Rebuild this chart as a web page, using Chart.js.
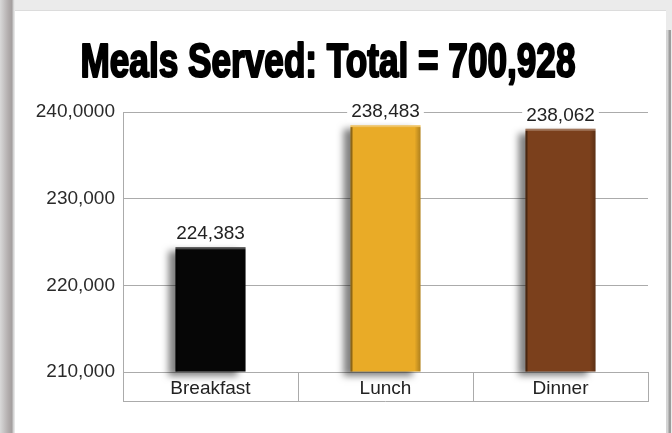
<!DOCTYPE html>
<html>
<head>
<meta charset="utf-8">
<script src="https://cdn.jsdelivr.net/npm/chart.js@4.4.1/dist/chart.umd.min.js"></script>
<style>
  body { margin: 0; width: 672px; height: 433px; overflow: hidden; position: relative; background: #ebebeb; }
  #edge { position: absolute; left: 0; top: 0; width: 15px; height: 433px;
    background: linear-gradient(to right, #d9d9d9 0, #b3aeae 8px, #a39e9e 12px, #cbcbcb 13px, #efefef 15px); }
  #panel { position: absolute; left: 15px; top: 10px; width: 651px; height: 423px; background: #fff; border-top: 1px solid #dcdcdc; }
  #rim { position: absolute; left: 666px; top: 30px; width: 5px; height: 403px;
    background: linear-gradient(to right, #d4d4d4 0, #d4d4d4 2px, #9d9d9d 3px, #9d9d9d 5px); }
  canvas { position: absolute; left: 0; top: 0; }
</style>
</head>
<body>
<div id="edge"></div>
<div id="panel"></div>
<div id="rim"></div>
<canvas id="mealsChart" width="672" height="433"></canvas>
<script>
const chartTitle = "Meals Served: Total = 700,928";
const mealCategories = ["Breakfast", "Lunch", "Dinner"];
const mealsServed = [224383, 238483, 238062];
const barColors = ["#060606", "#e9ab27", "#7b401c"];
const yTickValues = [210000, 220000, 230000, 240000];
const yTickLabels = ["210,000", "220,000", "230,000", "240,0000"];

const textFont = { family: "'Liberation Sans', Arial, sans-serif", size: 19 };
const gridColor = "#ababab";

// heavy condensed heading drawn straight onto the canvas
const posterTitle = {
  id: "posterTitle",
  afterDraw(chart) {
    const { ctx } = chart;
    ctx.save();
    ctx.font = "bold 48px 'Liberation Sans Narrow', 'Liberation Sans', sans-serif";
    const w = ctx.measureText(chartTitle).width;
    ctx.translate(328, 77);
    ctx.scale(495 / w, 1);
    ctx.textAlign = "center";
    ctx.textBaseline = "alphabetic";
    ctx.fillStyle = "#000";
    ctx.strokeStyle = "#000";
    ctx.lineWidth = 2.2;
    ctx.lineJoin = "round";
    ctx.fillText(chartTitle, 0, 0);
    ctx.strokeText(chartTitle, 0, 0);
    ctx.restore();
  },
};

// drop shadow under the bars, then bevel edges and value labels on top
const barDecor = {
  id: "barDecor",
  beforeDatasetsDraw(chart) {
    const { ctx } = chart;
    ctx.save();
    ctx.shadowColor = "rgba(0, 0, 0, 0.5)";
    ctx.shadowBlur = 7;
    ctx.shadowOffsetX = -8;
    ctx.shadowOffsetY = 4;
  },
  afterDatasetsDraw(chart) {
    const { ctx } = chart;
    ctx.restore();
    const meta = chart.getDatasetMeta(0);
    meta.data.forEach((bar, i) => {
      const left = bar.x - bar.width / 2;
      const h = bar.base - bar.y;
      ctx.save();
      ctx.fillStyle = "rgba(255, 255, 255, 0.28)";
      ctx.fillRect(left, bar.y, bar.width, 2);
      ctx.fillStyle = "rgba(0, 0, 0, 0.4)";
      ctx.fillRect(left, bar.y + 2, 2, h - 2);
      const g = ctx.createLinearGradient(left + bar.width - 6, 0, left + bar.width, 0);
      g.addColorStop(0, "rgba(0, 0, 0, 0)");
      g.addColorStop(1, "rgba(0, 0, 0, 0.25)");
      ctx.fillStyle = g;
      ctx.fillRect(left + bar.width - 6, bar.y + 2, 6, h - 2);

      const txt = mealsServed[i].toLocaleString("en-US");
      ctx.font = `${textFont.size}px ${textFont.family}`;
      const tw = ctx.measureText(txt).width;
      const baseY = bar.y - 6;
      ctx.fillStyle = "#fff";
      ctx.fillRect(bar.x - tw / 2 - 4, baseY - 16, tw + 8, 18);
      ctx.fillStyle = "#222";
      ctx.textAlign = "center";
      ctx.textBaseline = "bottom";
      ctx.fillText(txt, bar.x, baseY + 2);
      ctx.restore();
    });
  },
};

// closes the category box under the plot
const categoryBox = {
  id: "categoryBox",
  afterDraw(chart) {
    const x = chart.scales.x;
    const { ctx } = chart;
    ctx.save();
    ctx.strokeStyle = gridColor;
    ctx.lineWidth = 1;
    ctx.beginPath();
    ctx.moveTo(x.left, x.bottom - 0.5);
    ctx.lineTo(x.right, x.bottom - 0.5);
    ctx.stroke();
    ctx.restore();
  },
};

new Chart(document.getElementById("mealsChart"), {
  type: "bar",
  data: {
    labels: mealCategories,
    datasets: [
      {
        data: mealsServed,
        base: yTickValues[0],
        backgroundColor: barColors,
        borderWidth: 0,
        categoryPercentage: 1,
        barPercentage: 0.4,
        clip: false,
      },
    ],
  },
  options: {
    responsive: false,
    animation: false,
    layout: { padding: { top: 112, right: 24, bottom: 31, left: 0 } },
    plugins: {
      legend: { display: false },
      tooltip: { enabled: false },
      title: { display: false },
    },
    scales: {
      x: {
        grid: {
          drawOnChartArea: false,
          drawTicks: true,
          tickLength: 30,
          color: gridColor,
          offset: true,
        },
        border: { display: true, color: gridColor },
        ticks: { padding: -25, color: "#222", font: textFont },
        afterFit(scale) {
          scale.height = 30;
        },
      },
      y: {
        min: 210000,
        max: 240000,
        afterBuildTicks(scale) {
          scale.ticks = yTickValues.map((v) => ({ value: v }));
        },
        grid: { color: gridColor, drawTicks: false },
        border: { display: true, color: gridColor },
        ticks: {
          padding: 8,
          color: "#2a2a2a",
          font: textFont,
          callback: (value, index) => yTickLabels[index],
        },
        afterFit(scale) {
          scale.width = 123;
        },
      },
    },
  },
  plugins: [barDecor, categoryBox, posterTitle],
});
</script>
</body>
</html>
